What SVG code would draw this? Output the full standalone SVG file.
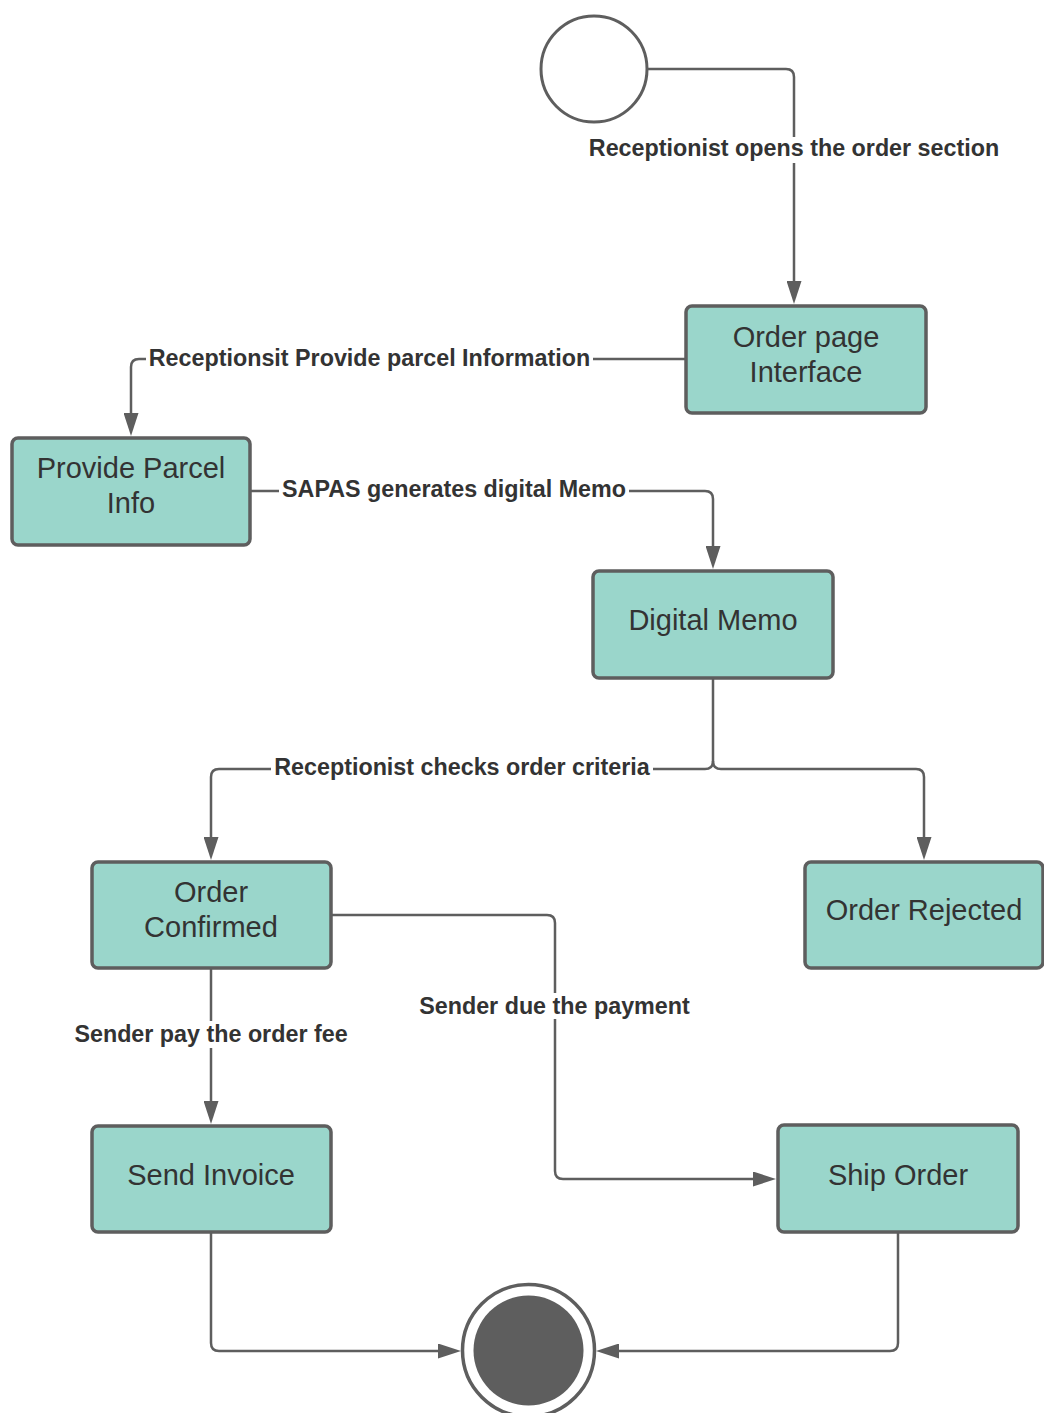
<svg xmlns="http://www.w3.org/2000/svg" width="1044" height="1413" viewBox="0 0 1044 1413">
  <style>
    .box { fill: #9AD6CB; stroke: #5E5E5E; stroke-width: 3.5; }
    .box-text { font-family: "Liberation Sans", Arial, sans-serif; font-size: 29px; fill: #333333; text-anchor: middle; }
    .edge { fill: none; stroke: #5E5E5E; stroke-width: 2.5; }
    .label { font-family: "Liberation Sans", Arial, sans-serif; font-size: 23.3px; font-weight: bold; fill: #333333; text-anchor: middle; }
    .label-bg { fill: #FFFFFF; }
  </style>
  <defs>
    <marker id="arrow" markerUnits="userSpaceOnUse" markerWidth="23" markerHeight="15" refX="13" refY="7.5" orient="auto">
      <path d="M0,0 L23,7.5 L0,15 Z" fill="#5E5E5E"/>
    </marker>
  </defs>

  <rect width="1044" height="1413" fill="#FFFFFF"/>

  <!-- transitions -->
  <g id="connectors">
    <path class="edge" d="M648,69 H786 Q794,69 794,77 V294" marker-end="url(#arrow)"/>
    <path class="edge" d="M686,359 H139 Q131,359 131,367 V426" marker-end="url(#arrow)"/>
    <path class="edge" d="M250,491 H705 Q713,491 713,499 V559" marker-end="url(#arrow)"/>
    <path class="edge" d="M713,678 V761 Q713,769 705,769 H219 Q211,769 211,777 V850" marker-end="url(#arrow)"/>
    <path class="edge" d="M713,761 Q713,769 721,769 H916 Q924,769 924,777 V850" marker-end="url(#arrow)"/>
    <path class="edge" d="M211,968 V1114" marker-end="url(#arrow)"/>
    <path class="edge" d="M331,915 H547 Q555,915 555,923 V1171 Q555,1179 563,1179 H766" marker-end="url(#arrow)"/>
    <path class="edge" d="M211,1232 V1343 Q211,1351 219,1351 H451" marker-end="url(#arrow)"/>
    <path class="edge" d="M898,1232 V1343 Q898,1351 890,1351 H606" marker-end="url(#arrow)"/>

    <!-- transition labels -->
    <rect class="label-bg" x="586" y="137" width="416" height="26"/>
    <text class="label" x="794" y="156">Receptionist opens the order section</text>
    <rect class="label-bg" x="146" y="347" width="447" height="25"/>
    <text class="label" x="369.5" y="366">Receptionsit Provide parcel Information</text>
    <rect class="label-bg" x="279" y="478" width="350" height="25"/>
    <text class="label" x="454" y="497">SAPAS generates digital Memo</text>
    <rect class="label-bg" x="271" y="756" width="382" height="25"/>
    <text class="label" x="462" y="775">Receptionist checks order criteria</text>
    <rect class="label-bg" x="72" y="1021" width="278" height="27"/>
    <text class="label" x="211" y="1042">Sender pay the order fee</text>
    <rect class="label-bg" x="417" y="993" width="275" height="26"/>
    <text class="label" x="554.5" y="1014">Sender due the payment</text>
  </g>

  <g id="start">
    <circle cx="594" cy="69" r="53" fill="#FFFFFF" stroke="#5E5E5E" stroke-width="3"/>
  </g>

  <g id="order-page-interface">
    <rect class="box" x="686" y="306" width="240" height="107" rx="6"/>
    <text class="box-text" x="806" y="347">Order page</text>
    <text class="box-text" x="806" y="382">Interface</text>
  </g>

  <g id="provide-parcel-info">
    <rect class="box" x="12" y="438" width="238" height="107" rx="6"/>
    <text class="box-text" x="131" y="478">Provide Parcel</text>
    <text class="box-text" x="131" y="513">Info</text>
  </g>

  <g id="digital-memo">
    <rect class="box" x="593" y="571" width="240" height="107" rx="6"/>
    <text class="box-text" x="713" y="630">Digital Memo</text>
  </g>

  <g id="order-confirmed">
    <rect class="box" x="92" y="862" width="239" height="106" rx="6"/>
    <text class="box-text" x="211" y="902">Order</text>
    <text class="box-text" x="211" y="937">Confirmed</text>
  </g>

  <g id="order-rejected">
    <rect class="box" x="805" y="862" width="238" height="106" rx="6"/>
    <text class="box-text" x="924" y="920">Order Rejected</text>
  </g>

  <g id="send-invoice">
    <rect class="box" x="92" y="1126" width="239" height="106" rx="6"/>
    <text class="box-text" x="211" y="1185">Send Invoice</text>
  </g>

  <g id="ship-order">
    <rect class="box" x="778" y="1125" width="240" height="107" rx="6"/>
    <text class="box-text" x="898" y="1185">Ship Order</text>
  </g>

  <g id="end">
    <circle cx="528.5" cy="1350.5" r="66" fill="#FFFFFF" stroke="#5E5E5E" stroke-width="3.5"/>
    <circle cx="528.5" cy="1350.5" r="55" fill="#5E5E5E"/>
  </g>
</svg>
